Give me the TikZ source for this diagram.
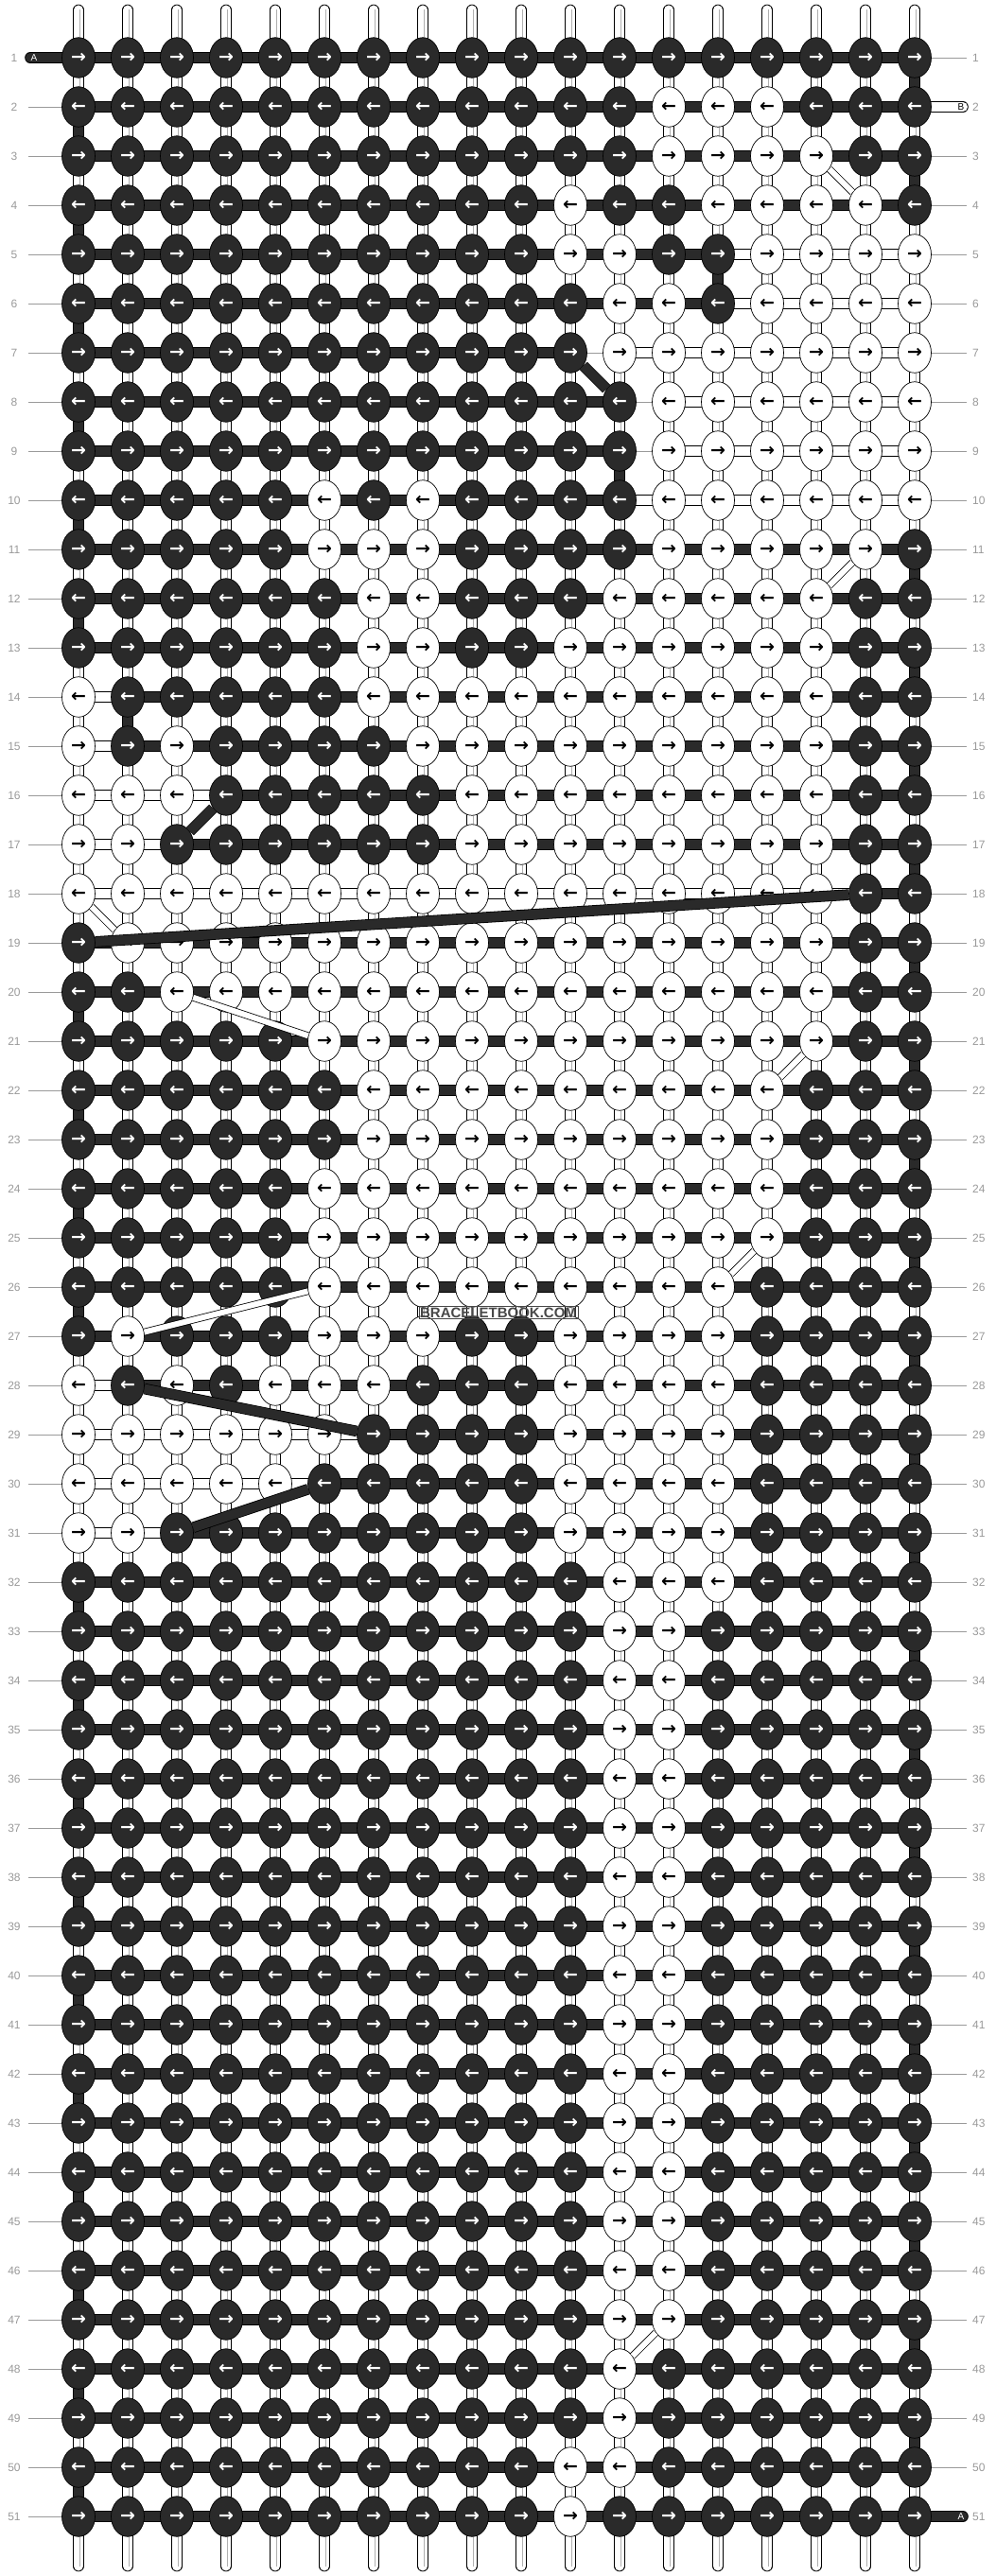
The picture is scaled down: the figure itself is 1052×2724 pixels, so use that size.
\documentclass[tikz,border=0pt]{standalone}
\usepackage{fontspec}
\setmainfont{Liberation Sans}
\newfontfamily\arrowfont{DejaVu Sans}
\usetikzlibrary{shapes.geometric}
\pgfdeclarelayer{bg}
\pgfdeclarelayer{fg}
\pgfsetlayers{bg,main,fg}
\definecolor{knotdark}{HTML}{2A2A2A}
\definecolor{lblgray}{HTML}{9A9A9A}
\definecolor{rodgray}{HTML}{B0B0B0}
\definecolor{wmgray}{HTML}{484848}
\newcommand\markset[2]{\foreach \mkR/\mkL in {#2}{\foreach \mkC in \mkL {\expandafter\gdef\csname #1-\mkR-\mkC\endcsname{}}}}
\newcommand\markone[3]{\expandafter\gdef\csname #1-#2-#3\endcsname{}}
\begin{document}
\begin{tikzpicture}[x=1pt,y=-1pt,
 knot/.style={ellipse, draw=black, line width=0.7pt, minimum width=35pt, minimum height=42.5pt, inner sep=0pt, font=\arrowfont\bfseries\fontsize{19pt}{19pt}\selectfont},
 bseg/.style={line width=0.8pt, double=knotdark, double distance=10pt},
 wseg/.style={line width=0.8pt, double=white, double distance=10pt},
 gseg/.style={line width=0.8pt, draw=lblgray},
 rodc/.style={line width=0.5pt, draw=rodgray, double=white, double distance=2pt},
 bdiag/.style={line width=0.8pt, double=knotdark, double distance=10pt},
 wdiag/.style={line width=0.8pt, draw=black, double=white, double distance=6pt},
 lbl/.style={font=\fontsize{12pt}{12pt}\selectfont, text=lblgray, inner sep=0pt},
 lblline/.style={draw=lblgray, line width=0.8pt},
 endlbl/.style={font=\fontsize{10pt}{10pt}\selectfont, inner sep=0pt}]
\useasboundingbox (0,0) rectangle (1052,2724);
% ---- data ----
\markset{kw}{2/{13,14,15}, 3/{13,14,15,16}, 4/{11,14,15,16,17}, 5/{11,12,15,16,17,18},
 6/{12,13,15,16,17,18}, 7/{12,...,18}, 8/{13,...,18}, 9/{13,...,18},
 10/{6,8,13,14,15,16,17,18}, 11/{6,7,8,13,14,15,16,17}, 12/{7,8,12,13,14,15,16},
 13/{7,8,11,12,13,14,15,16}, 14/{1,7,8,9,10,11,12,13,14,15,16},
 15/{1,3,8,9,10,11,12,13,14,15,16}, 16/{1,2,3,9,10,11,12,13,14,15,16},
 17/{1,2,9,10,11,12,13,14,15,16}, 18/{1,...,16}, 19/{2,...,16}, 20/{3,...,16},
 21/{6,...,16}, 22/{7,...,15}, 23/{7,...,15}, 24/{6,...,15}, 25/{6,...,15}, 26/{6,...,14},
 27/{2,6,7,8,11,12,13,14}, 28/{1,3,5,6,7,11,12,13,14}, 29/{1,2,3,4,5,6,11,12,13,14},
 30/{1,2,3,4,5,11,12,13,14}, 31/{1,2,11,12,13,14}, 32/{12,13,14},
 48/{12}, 49/{12}, 50/{11,12}, 51/{11}}
\foreach \rr in {33,...,47}{\markone{kw}{\rr}{12}\markone{kw}{\rr}{13}}
\markset{hw}{5/{14,15,16,17}, 6/{14,15,16,17}, 7/{12,...,17}, 8/{13,...,17}, 9/{13,...,17},
 10/{12,...,17}, 14/{1}, 15/{1}, 16/{1,2,3}, 17/{1,2}, 18/{1,...,16}, 28/{1}, 29/{1,...,6},
 30/{1,...,5}, 31/{1,2}}
\markset{hg}{7/{11}, 8/{12}, 9/{12}}
\markset{vb}{5/{14}, 9/{12}, 14/{2}}
\foreach \rr in {1,3,11,13,15,17}{\markone{vb}{\rr}{18}}
\foreach \rr in {19,21,...,49}{\markone{vb}{\rr}{18}}
\foreach \rr in {2,4,6,8,10,12,20,22,24,26}{\markone{vb}{\rr}{1}}
\foreach \rr in {32,34,...,50}{\markone{vb}{\rr}{1}}
% ---- knots ----
\foreach \r in {1,...,51}{
  \ifodd\r\relax\def\arr{→}\else\def\arr{←}\fi
  \foreach \c in {1,...,18}{
    \ifcsname kw-\r-\c\endcsname\def\kf{white}\def\kt{black}\else\def\kf{knotdark}\def\kt{white}\fi
    \node[knot, fill=\kf, text=\kt] (k-\r-\c) at ({83+(\c-1)*52},{61+(\r-1)*52}) {\arr};
  }
}
% ---- connectors ----
\begin{pgfonlayer}{bg}
\fill[white] (0,0) rectangle (1052,2724);
\foreach \r in {1,...,51}{
  \foreach \c in {1,...,17}{
    \pgfmathtruncatemacro\cn{\c+1}
    \ifcsname hw-\r-\c\endcsname
      \draw[wseg] (k-\r-\c.center) -- (k-\r-\cn.center);
    \else\ifcsname hg-\r-\c\endcsname
      \draw[gseg] (k-\r-\c.center) -- (k-\r-\cn.center);
    \else
      \draw[bseg] (k-\r-\c.center) -- (k-\r-\cn.center);
    \fi\fi
  }
}
\foreach \r in {1,...,50}{
  \pgfmathtruncatemacro\rn{\r+1}
  \foreach \c in {1,...,18}{
    \ifcsname vb-\r-\c\endcsname
      \draw[bseg] (k-\r-\c.center) -- (k-\rn-\c.center);
    \else
      \draw[wseg] (k-\r-\c.center) -- (k-\rn-\c.center);
      \draw[rodc] (k-\r-\c.center) -- (k-\rn-\c.center);
    \fi
  }
}
\foreach \c in {1,...,18}{
  \coordinate (t-\c) at ({83+(\c-1)*52},10.5);
  \coordinate (b-\c) at ({83+(\c-1)*52},2713.5);
  \draw[wseg, line cap=round] (t-\c) -- (k-1-\c.center);
  \draw[rodc] (t-\c) -- (k-1-\c.center);
  \draw[wseg, line cap=round] (k-51-\c.center) -- (b-\c);
  \draw[rodc] (k-51-\c.center) -- (b-\c);
}
% row ends
\coordinate (endA1) at (32,61);
\draw[bseg, line cap=round] (endA1) -- (k-1-1.center);
\coordinate (endB2) at (1018,113);
\draw[wseg, line cap=round] (k-2-18.center) -- (endB2);
\coordinate (endA51) at (1018,2661);
\draw[bseg, line cap=round] (k-51-18.center) -- (endA51);
% label lines
\foreach \r in {2,...,51}{
  \coordinate (ll-\r) at (30,{61+(\r-1)*52});
  \draw[lblline] (ll-\r) -- (k-\r-1);
}
\foreach \r in {1,...,50}{
  \ifnum\r=2\relax\else
  \coordinate (rl-\r) at (1022,{61+(\r-1)*52});
  \draw[lblline] (k-\r-18) -- (rl-\r);
  \fi
}
\end{pgfonlayer}
% ---- labels ----
\foreach \r in {1,...,51}{
  \node[lbl] (nl-\r) at (15,{61+(\r-1)*52}) {\r};
  \node[lbl, anchor=west] (nr-\r) at (1028,{61+(\r-1)*52}) {\r};
}
\node[endlbl, text=white] (labA1) at (36,61) {A};
\node[endlbl, text=black] (labB2) at (1016,113) {B};
\node[endlbl, text=white] (labA51) at (1016,2661) {A};
% ---- diagonals ----
\begin{pgfonlayer}{fg}
\foreach \a/\b/\cc/\d in {7/11/8/12, 16/4/17/3, 18/17/19/1, 28/2/29/7, 30/6/31/3}
  {\draw[bdiag] (k-\a-\b) -- (k-\cc-\d);}
\foreach \a/\b/\cc/\d in {3/16/4/17, 11/17/12/16, 18/1/19/2, 20/3/21/6, 21/16/22/15, 25/15/26/14, 26/6/27/2, 47/13/48/12}
  {\draw[wdiag] (k-\a-\b) -- (k-\cc-\d);}
\node[draw=wmgray, line width=0.5pt, inner sep=1pt, text=wmgray, font=\bfseries\fontsize{15pt}{15pt}\selectfont] (wm) at (527,1388) {BRACELETBOOK.COM};
\end{pgfonlayer}
\end{tikzpicture}
\end{document}
